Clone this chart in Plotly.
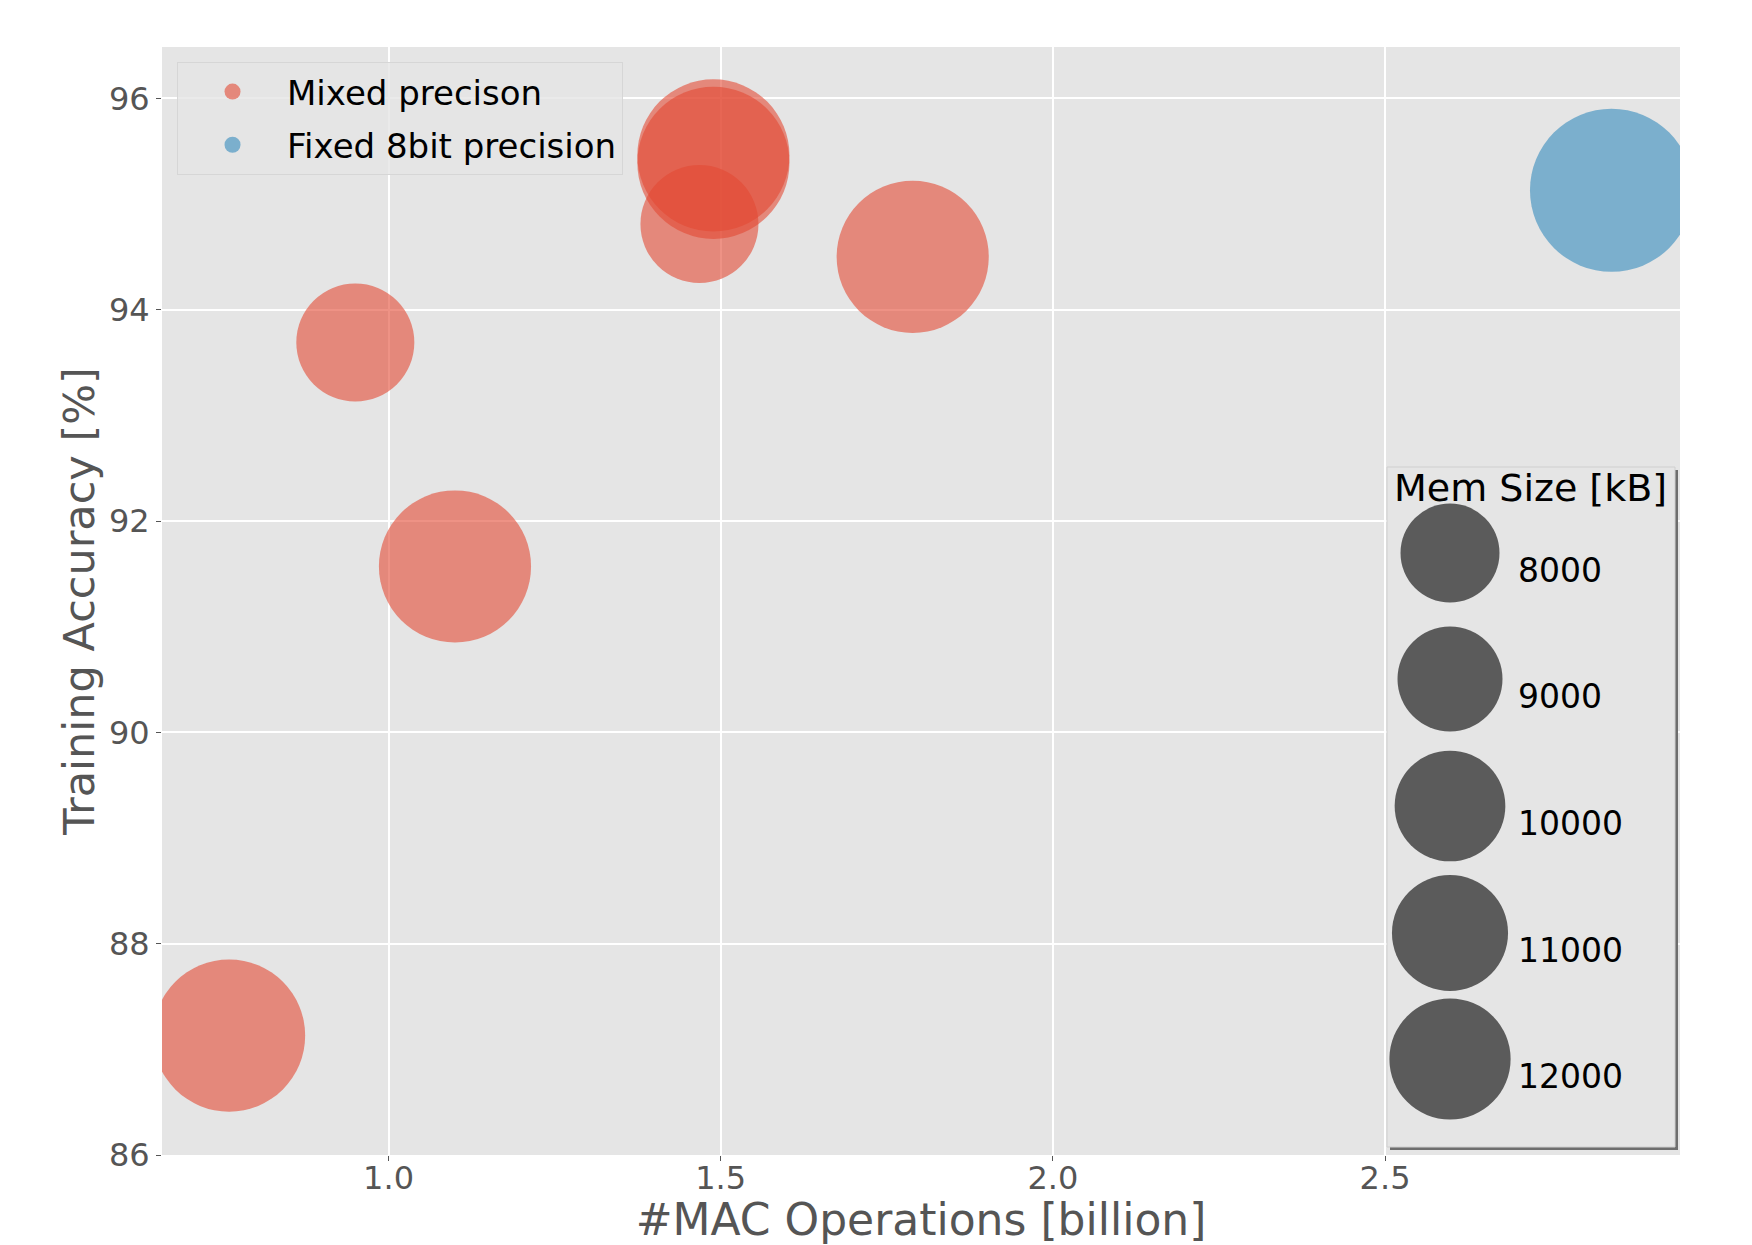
import numpy as np
import plotly.graph_objects as go

# ---------------- data ----------------
mixed_mac = [0.76, 0.95, 1.10, 1.468, 1.489, 1.489, 1.789]
mixed_acc = [87.13, 93.69, 91.57, 94.81, 95.46, 95.39, 94.50]
mixed_mem = [13300, 8000, 13300, 8000, 13300, 13300, 13300]

fixed_mac = [2.841]
fixed_acc = [95.13]
fixed_mem = [15300]

legend_mem = [8000, 9000, 10000, 11000, 12000]
legend_labels = ["8000", "9000", "10000", "11000", "12000"]

x_ticks = [1.0, 1.5, 2.0, 2.5]
y_ticks = [86, 88, 90, 92, 94, 96]

# ---------------- style ----------------
RED = "#E24A33"
BLUE = "#348ABD"
FONT = "DejaVu Sans"
OFF = 8                      # page body margin of the browser
W, H = 1752 - OFF, 1245 - OFF
PL, PR, PT, PB = 162, 1680, 47, 1155   # plot area in screen pixels
ML, MR, MT, MB = PL - OFF, W + OFF - PR, PT - OFF, H + OFF - PB


def diam(mem, base):
    return [base * np.sqrt(m / 8000.0) for m in mem]


fig = go.Figure()

fig.add_trace(go.Scatter(
    x=mixed_mac, y=mixed_acc, mode="markers", name="Mixed precison", legendgroup="a",
    marker=dict(color=RED, opacity=0.6, size=diam(mixed_mem, 118),
                sizemode="diameter", line=dict(width=0)),
))
fig.add_trace(go.Scatter(
    x=fixed_mac, y=fixed_acc, mode="markers", name="Fixed 8bit precision", legendgroup="b",
    marker=dict(color=BLUE, opacity=0.6, size=diam(fixed_mem, 118),
                sizemode="diameter", line=dict(width=0)),
))

# ---------------- size legend (overlay axes in screen-pixel units) ----------------
bx0, by0, bx1, by1 = 1387, 467, 1675, 1147
sh = 3
fig.add_trace(go.Scatter(
    x=[bx0 + sh, bx1 + sh, bx1 + sh, bx0 + sh, bx0 + sh],
    y=[by0 + sh, by0 + sh, by1 + sh, by1 + sh, by0 + sh],
    mode="lines", fill="toself", fillcolor="#6E6E6E",
    line=dict(width=0), xaxis="x2", yaxis="y2", showlegend=False, hoverinfo="skip",
))
fig.add_trace(go.Scatter(
    x=[bx0, bx1, bx1, bx0, bx0],
    y=[by0, by0, by1, by1, by0],
    mode="lines", fill="toself", fillcolor="#E5E5E5",
    line=dict(width=1, color="#CFCFCF"), xaxis="x2", yaxis="y2",
    showlegend=False, hoverinfo="skip",
))
leg_y = [553, 679, 806, 933, 1059]
fig.add_trace(go.Scatter(
    x=[1450] * len(legend_mem), y=leg_y, mode="markers",
    marker=dict(color="#5B5B5B", opacity=1, size=diam(legend_mem, 99), sizemode="diameter",
                line=dict(width=0)),
    xaxis="x2", yaxis="y2", showlegend=False, hoverinfo="skip",
))

annotations = [
    dict(x=1530, y=488, xref="x2", yref="y2", text="Mem Size [kB]", showarrow=False,
         font=dict(family=FONT, size=38, color="black"), xanchor="center", yanchor="middle"),
]
for yy, lab in zip(leg_y, legend_labels):
    annotations.append(dict(
        x=1516, y=yy + 17, xref="x2", yref="y2", text=lab, showarrow=False,
        font=dict(family=FONT, size=33, color="black"), xanchor="left", yanchor="middle"))

fig.update_layout(
    width=W, height=H,
    margin=dict(l=ML, r=MR, t=MT, b=MB),
    paper_bgcolor="white", plot_bgcolor="#E5E5E5",
    font=dict(family=FONT, color="#555555"),
    xaxis=dict(
        range=[0.659, 2.944], tickvals=x_ticks, ticktext=["1.0", "1.5", "2.0", "2.5"],
        showgrid=True, gridcolor="white", gridwidth=1.5, zeroline=False,
        ticks="outside", ticklen=5, tickcolor="#555555", ticklabelstandoff=-10,
        tickfont=dict(size=32, color="#555555"),
        title=dict(text="#MAC Operations [billion]", font=dict(size=44, color="#555555"), standoff=2),
        showline=False, automargin=False,
    ),
    yaxis=dict(
        range=[86, 96.486], tickvals=y_ticks,
        showgrid=True, gridcolor="white", gridwidth=1.5, zeroline=False,
        ticks="outside", ticklen=5, tickcolor="#555555",
        tickfont=dict(size=32, color="#555555"),
        title=dict(text="Training Accuracy [%]", font=dict(size=43, color="#555555"), standoff=0),
        showline=False, automargin=False,
    ),
    xaxis2=dict(range=[PL, PR], visible=False, anchor="y2", overlaying="x",
                fixedrange=True, showgrid=False, automargin=False),
    yaxis2=dict(range=[PB, PT], visible=False, anchor="x2", overlaying="y",
                fixedrange=True, showgrid=False, automargin=False),
    legend=dict(
        x=0.0099, y=0.9865, xanchor="left", yanchor="top",
        bgcolor="rgba(229,229,229,0.8)", bordercolor="#D6D6D6", borderwidth=1,
        font=dict(family=FONT, size=34, color="black"),
        itemsizing="trace", itemwidth=99, traceorder="grouped", tracegroupgap=6,
    ),
    annotations=annotations,
    showlegend=True,
)

fig.write_html("out.html")
